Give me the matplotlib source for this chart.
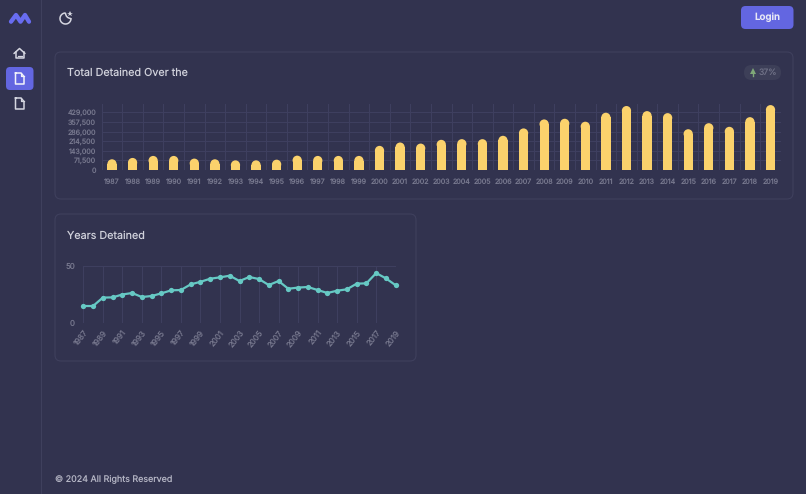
import matplotlib
matplotlib.use('Agg')
import matplotlib.pyplot as plt
import matplotlib.patches as patches

plt.rcParams['font.family'] = ['Inter', 'DejaVu Sans']
plt.rcParams['text.hinting'] = 'none'
plt.rcParams['text.hinting_factor'] = 1

W, H = 806, 494
BG = '#32334f'
BORDER = '#3f405d'
GRID = '#3f4060'
TICK = '#77788e'
TITLE = '#d0d1db'
PURPLE = '#6366e1'
ICON = '#d5d6e0'

years = list(range(1987, 2020))
detained = [80000, 90000, 105000, 105000, 85000, 80000, 72000, 72000, 77000, 107000, 105000,
            105000, 105000, 180000, 205000, 197000, 225000, 230000, 230000, 255000, 310000,
            377000, 382000, 360000, 427000, 477000, 439000, 424000, 304000, 349000, 322000,
            394000, 484000]
years_detained = [15, 15, 22.3, 22.5, 25, 26.3, 22.8, 23.7, 26, 28.6, 28.9, 33.8, 36, 38.7, 39.9,
                  41.3, 36.7, 40.2, 38.4, 33.2, 36.7, 30, 31, 31.5, 28.9, 26.3, 28.3, 29.5, 34.4,
                  34.7, 43.6, 39, 33]
bar_ticks = [0, 71500, 143000, 214500, 286000, 357500, 429000]
line_ticks = [0, 50]


def px_axes(fig, left, top, right, bottom):
    return fig.add_axes([left / W, 1 - bottom / H, (right - left) / W, (bottom - top) / H])


def rounded(ax, x0, y0, x1, y1, r, **kw):
    box = patches.FancyBboxPatch((x0 + r, y0 + r), x1 - x0 - 2 * r, y1 - y0 - 2 * r,
                                 boxstyle='round,pad=%f,rounding_size=%f' % (r, r), **kw)
    ax.add_patch(box)


def file_icon(ax, cx, cy, color):
    xs = [cx - 4, cx + 1.5, cx + 4.5, cx + 4.5, cx - 4, cx - 4]
    ys = [cy - 5.5, cy - 5.5, cy - 2, cy + 5.5, cy + 5.5, cy - 5.5]
    ax.plot(xs, ys, color=color, lw=1.1, solid_joinstyle='round')
    ax.plot([cx + 1, cx + 1, cx + 4.5], [cy - 5.5, cy - 2, cy - 2], color=color, lw=0.9)


def chrome(ax):
    ax.set_xlim(0, W)
    ax.set_ylim(H, 0)
    ax.axis('off')
    ax.plot([41, 41], [0, H], color=BORDER, lw=0.8)

    # cards
    rounded(ax, 55, 52, 793, 199, 6, facecolor='none', edgecolor=BORDER, lw=0.8)
    rounded(ax, 55, 214, 416, 361, 6, facecolor='none', edgecolor=BORDER, lw=0.8)
    ax.text(67, 72.5, 'Total Detained Over the', color=TITLE, fontsize=7.75, va='center')
    ax.text(67, 235.5, 'Years Detained', color=TITLE, fontsize=7.75, va='center')

    # logo
    ax.plot([11, 16, 20.5, 25, 29], [21.7, 15, 21.7, 15, 21.7], color='#686cf0', lw=3.1,
            solid_capstyle='round', solid_joinstyle='round')

    # sidebar
    ax.plot([14, 19.5, 25], [53.5, 48.5, 53.5], color=ICON, lw=1.1, solid_capstyle='round')
    ax.plot([15.5, 15.5, 23.5, 23.5], [52, 58, 58, 52], color=ICON, lw=1.1)
    ax.plot([17.5, 21.5], [56, 56], color=ICON, lw=0.9)
    rounded(ax, 6, 67, 33.5, 90, 4, facecolor=PURPLE, edgecolor='none')
    file_icon(ax, 19.5, 78.5, '#f2f2fa')
    file_icon(ax, 19.5, 103.5, ICON)

    # moon
    ax.add_patch(patches.Arc((65.5, 18.5), 11, 11, theta1=-5, theta2=272, color=ICON, lw=1.1))
    ax.add_patch(patches.Arc((71, 13), 11, 11, theta1=90, theta2=180, color=ICON, lw=1.1))
    ax.plot([69.5], [14], marker='*', ms=4, color=ICON, mew=0)

    # login button
    rounded(ax, 741, 6, 793.5, 29, 4.5, facecolor=PURPLE, edgecolor='none')
    ax.text(767, 17.5, 'Login', color='#e8e8f6', fontsize=7, fontweight='semibold',
            ha='center', va='center')

    # badge
    rounded(ax, 744, 65, 781, 80, 7.5, facecolor='#3d3f58', edgecolor='none')
    ax.plot([752.8, 752.8], [71, 76], color='#7fa878', lw=1)
    ax.plot([752.8], [71], marker='^', ms=4, color='#7fa878', mew=0)
    ax.text(767.5, 72.8, '37%', color='#6f7186', fontsize=6.2, ha='center', va='center')

    ax.text(55, 480, '\u00a9 2024 All Rights Reserved', color='#b4b5c4', fontsize=6.45, va='center')


def style_chart(ax, size):
    ax.patch.set_alpha(0)
    for side in ax.spines:
        ax.spines[side].set_visible(False)
    ax.set_axisbelow(True)
    ax.grid(True, color=GRID, lw=0.7)
    ax.tick_params(length=0, colors=TICK, labelsize=size)


def bar_chart(ax):
    r_px = 4.7
    y_max = 492000
    ry = r_px * y_max / 66
    rx = 0.225
    ax.bar(range(len(years)), [v - ry for v in detained], width=2 * rx, color='#fbd26c', linewidth=0)
    for i, v in enumerate(detained):
        ax.add_patch(patches.Ellipse((i, v - ry), 2 * rx, 2 * ry, facecolor='#fbd26c', linewidth=0))
    ax.set_xlim(-0.5, len(years) - 0.5)
    ax.set_ylim(0, y_max)
    style_chart(ax, 5.1)
    ax.set_yticks(bar_ticks)
    ax.set_yticklabels(['{:,}'.format(t) for t in bar_ticks])
    ax.set_xticks([i - 0.5 for i in range(len(years) + 1)], minor=False)
    ax.set_xticklabels([])
    ax.set_xticks(range(len(years)), minor=True)
    ax.set_xticklabels(years, minor=True)
    ax.tick_params(which='minor', length=0, colors=TICK, labelsize=5.1, pad=6)
    ax.tick_params(axis='y', pad=4)


def line_chart(ax):
    ax.plot(years, years_detained, color='#66c9c4', lw=1.6, marker='o', ms=3.8, mew=0, clip_on=False)
    ax.set_xlim(1987, 2019)
    ax.set_ylim(0, 50)
    style_chart(ax, 5.7)
    ax.set_yticks(line_ticks)
    ax.set_xticks(years[::2])
    ax.set_xticklabels(years[::2], rotation=52, ha='right', rotation_mode='anchor')
    ax.tick_params(axis='y', pad=6)
    ax.tick_params(axis='x', pad=4)


def Main():
    fig = plt.figure(figsize=(W / 100, H / 100), dpi=100, facecolor=BG)
    chrome(px_axes(fig, 0, 0, W, H))
    bar_chart(px_axes(fig, 101.7, 104, 780.8, 170))
    line_chart(px_axes(fig, 83.3, 265.7, 395.7, 323.3))
    fig.savefig('out.png', dpi=100, facecolor=BG)


if __name__ == '__main__':
    Main()
